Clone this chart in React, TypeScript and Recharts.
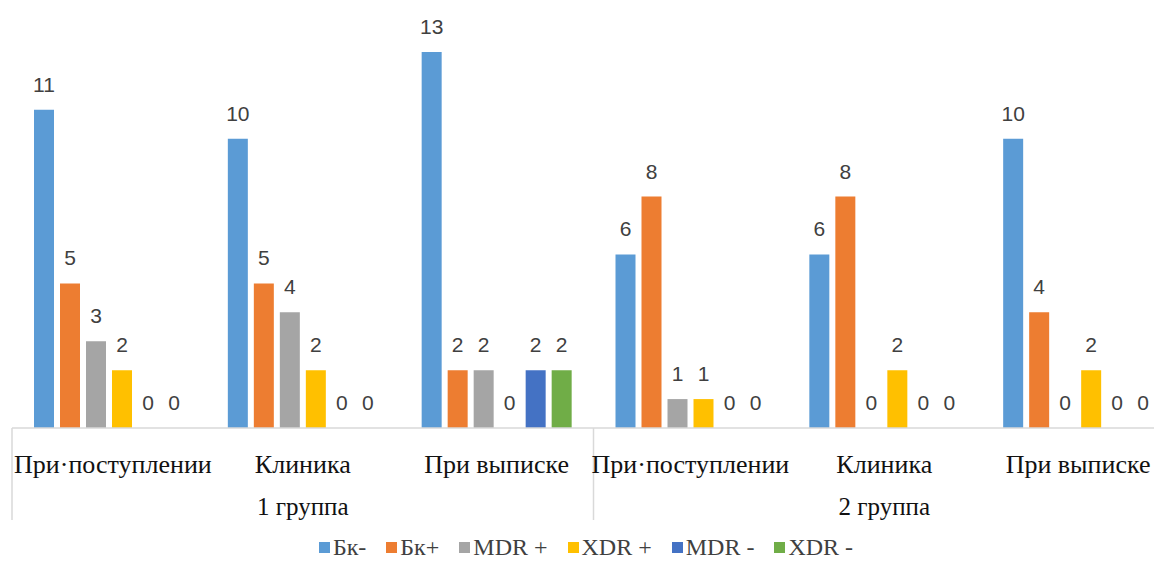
import { BarChart, Bar, XAxis, YAxis, Legend, LabelList } from "recharts";

const categories = [
  "При·поступлении",
  "Клиника",
  "При выписке",
  "При·поступлении",
  "Клиника",
  "При выписке",
];
const groupLabels = ["1 группа", "2 группа"];

const bkMinus = [11, 10, 13, 6, 6, 10];
const bkPlus = [5, 5, 2, 8, 8, 4];
const mdrPlus = [3, 4, 2, 1, 0, 0];
const xdrPlus = [2, 2, 0, 1, 2, 2];
const mdrMinus = [0, 0, 2, 0, 0, 0];
const xdrMinus = [0, 0, 2, 0, 0, 0];

const SERIES = [
  { key: "bkMinus", name: "Бк-", color: "#5B9BD5" },
  { key: "bkPlus", name: "Бк+", color: "#ED7D31" },
  { key: "mdrPlus", name: "MDR +", color: "#A5A5A5" },
  { key: "xdrPlus", name: "XDR +", color: "#FFC000" },
  { key: "mdrMinus", name: "MDR -", color: "#4472C4" },
  { key: "xdrMinus", name: "XDR -", color: "#70AD47" },
];

const data = categories.map((label, i) => ({
  label,
  bkMinus: bkMinus[i],
  bkPlus: bkPlus[i],
  mdrPlus: mdrPlus[i],
  xdrPlus: xdrPlus[i],
  mdrMinus: mdrMinus[i],
  xdrMinus: xdrMinus[i],
}));

const SERIF = "'Liberation Serif', 'Times New Roman', serif";
const LINE = "#d9d9d9";

function CategoryTick(props: any) {
  const { x, y, payload } = props;
  const idx = props.index ?? payload.index ?? 0;
  const half = payload.offset ?? 96.9;
  const perGroup = categories.length / groupLabels.length;
  const pos = idx % perGroup;
  return (
    <g>
      {pos === 0 && (
        <line x1={x - half} x2={x - half} y1={y} y2={y + 92} stroke={LINE} strokeWidth={1.5} />
      )}
      <text
        x={x + (idx === 0 ? 4 : 0)}
        y={y + 45}
        textAnchor="middle"
        fontFamily={SERIF}
        fontSize={26}
        fill="#111"
      >
        {payload.value}
      </text>
      {pos === 1 && (
        <text
          x={x}
          y={y + 87}
          textAnchor="middle"
          fontFamily={SERIF}
          fontSize={25}
          fill="#111"
        >
          {groupLabels[Math.floor(idx / perGroup)]}
        </text>
      )}
    </g>
  );
}

function LegendContent() {
  return (
    <div
      style={{
        display: "flex",
        justifyContent: "center",
        alignItems: "flex-end",
        height: 30,
        fontFamily: SERIF,
        fontSize: 24,
        lineHeight: "22px",
        color: "#404040",
      }}
    >
      {SERIES.map((s) => (
        <div key={s.key} style={{ display: "flex", alignItems: "center", margin: "0 10px" }}>
          <span style={{ width: 11, height: 11, background: s.color, marginRight: 3 }} />
          <span>{s.name}</span>
        </div>
      ))}
    </div>
  );
}

export default function App() {
  return (
    <BarChart
      width={1154}
      height={550}
      data={data}
      margin={{ top: 44, right: 2, bottom: 0, left: 4 }}
      barSize={20}
      barGap={6}
    >
      <XAxis
        dataKey="label"
        axisLine={{ stroke: LINE, strokeWidth: 1.5 }}
        tickLine={false}
        tickSize={0}
        tickMargin={0}
        height={100}
        interval={0}
        padding={{ left: 0, right: -15 }}
        tick={<CategoryTick />}
      />
      <YAxis hide domain={[0, 13]} />
      <Legend
        verticalAlign="bottom"
        wrapperStyle={{ height: 30 }}
        content={<LegendContent />}
      />
      {SERIES.map((s) => (
        <Bar
          key={s.key}
          dataKey={s.key}
          name={s.name}
          fill={s.color}
          minPointSize={0.01}
          isAnimationActive={false}
        >
          <LabelList
            dataKey={s.key}
            position="top"
            offset={18}
            fontFamily="'Liberation Sans', Arial, sans-serif"
            fontSize={21}
            fill="#404040"
          />
        </Bar>
      ))}
    </BarChart>
  );
}
